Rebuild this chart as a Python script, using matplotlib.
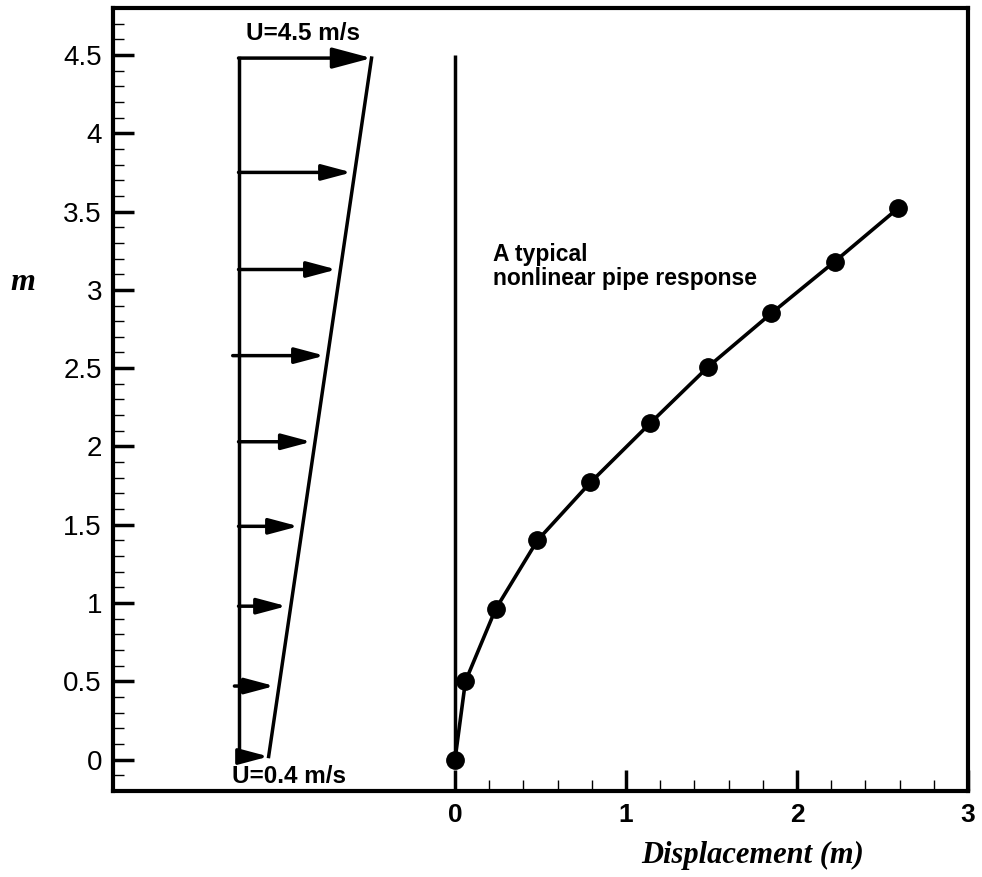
import matplotlib.pyplot as plt
from matplotlib.ticker import FixedLocator
import numpy as np

# pipe response (displacement vs height)
disp = [0.0, 0.061, 0.237, 0.482, 0.792, 1.143, 1.482, 1.85, 2.22, 2.59]
height = [0.0, 0.50, 0.96, 1.40, 1.77, 2.15, 2.51, 2.85, 3.18, 3.52]

# current profile arrows drawn left of the pipe (plot x coords)
arrow_y = [0.02, 0.47, 0.98, 1.49, 2.03, 2.58, 3.13, 3.75, 4.48]
arrow_base = [-1.266, -1.29, -1.266, -1.266, -1.266, -1.30, -1.266, -1.266, -1.266]
arrow_tip = [-1.09, -1.056, -0.985, -0.915, -0.84, -0.763, -0.693, -0.605, -0.488]
profile_x = -1.266

pipe_x = [0, 0]
pipe_y = [0, 4.5]

xmajor = [0, 1, 2, 3]
xminor = [v for v in np.round(np.arange(0, 3.01, 0.2), 1) if v not in xmajor]
ymajor = [0, 0.5, 1, 1.5, 2, 2.5, 3, 3.5, 4, 4.5]
ylabels = ["0", "0.5", "1", "1.5", "2", "2.5", "3", "3.5", "4", "4.5"]
yminor = [v for v in np.round(np.arange(-0.1, 4.75, 0.1), 1) if v not in ymajor]

plt.rcParams["font.family"] = ["Liberation Sans", "DejaVu Sans"]

fig = plt.figure(figsize=(9.82, 8.77), dpi=100)
ax = fig.add_axes([0.1151, 0.0981, 0.8706, 0.8928])
ax.set_xlim(-2, 3)
ax.set_ylim(-0.2, 4.8)

# pipe at rest and deflected shape
ax.plot(pipe_x, pipe_y, color="k", lw=2.5, solid_capstyle="butt")
ax.plot(disp, height, color="k", lw=2.6, marker="o", ms=12.5)

# velocity profile
ax.plot([profile_x, profile_x], [arrow_y[0], arrow_y[-1]], color="k", lw=2.5)
ax.plot([arrow_tip[0], arrow_tip[-1]], [arrow_y[0], arrow_y[-1]], color="k", lw=2.5)
for i, (y, x0, x1) in enumerate(zip(arrow_y, arrow_base, arrow_tip)):
    if i == len(arrow_y) - 1:
        style = "-|>,head_length=1.2,head_width=0.32"
    else:
        style = "-|>,head_length=0.9,head_width=0.24"
    ax.annotate("", xy=(x1, y), xytext=(x0, y),
                arrowprops=dict(arrowstyle=style, color="k", lw=2.5,
                                mutation_scale=20, shrinkA=0, shrinkB=0))

ax.text(-1.225, 4.595, "U=4.5 m/s", fontsize=17.5, fontweight="bold", va="baseline")
ax.text(-1.307, -0.147, "U=0.4 m/s", fontsize=17.5, fontweight="bold", va="baseline")
ax.text(0.22, 3.30, "A typical\nnonlinear pipe response", fontsize=16.5,
        fontweight="bold", va="top", linespacing=1.05)

# axes styling
for side in ["top", "right", "left", "bottom"]:
    ax.spines[side].set_linewidth(3)
ax.xaxis.set_major_locator(FixedLocator(xmajor))
ax.xaxis.set_minor_locator(FixedLocator(xminor))
ax.yaxis.set_major_locator(FixedLocator(ymajor))
ax.yaxis.set_minor_locator(FixedLocator(yminor))
ax.set_xticklabels([str(v) for v in xmajor], fontweight="bold", fontsize=19)
ax.set_yticklabels(ylabels, fontsize=20)
ax.tick_params(axis="both", which="major", direction="in", length=15, width=2.5)
ax.tick_params(axis="both", which="minor", direction="in", length=8, width=1)
ax.tick_params(axis="x", which="major", pad=9)
ax.tick_params(axis="y", which="major", pad=8)

serif = ["Liberation Serif", "DejaVu Serif"]
fig.text(753 / 982, 1 - 855 / 877, "Displacement (m)", family=serif, style="italic",
         fontweight="bold", fontsize=22, ha="center", va="center")
fig.text(23 / 982, 1 - 290 / 877, "m", family=serif, style="italic",
         fontweight="bold", fontsize=23, ha="center", va="baseline")

fig.savefig("out.png", dpi=100)
